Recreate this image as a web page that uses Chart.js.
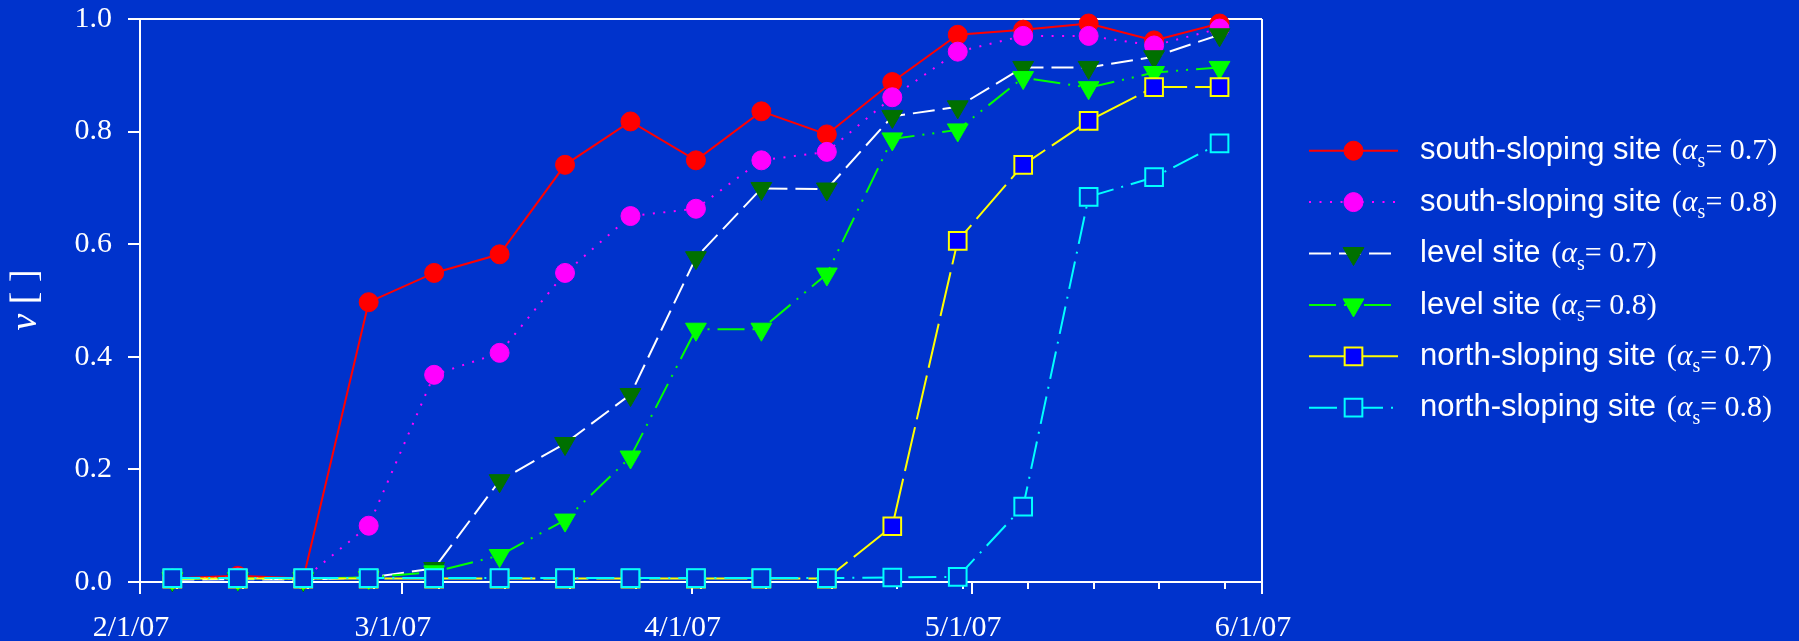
<!DOCTYPE html>
<html>
<head>
<meta charset="utf-8">
<script src="https://cdn.jsdelivr.net/npm/chart.js@4.4.0/dist/chart.umd.min.js"></script>
<style>
  html, body { margin: 0; padding: 0; background: #0033CC; }
  #wrap { width: 1799px; height: 641px; position: relative; }
</style>
</head>
<body>
<div id="wrap"><canvas id="c" width="1799" height="641"></canvas></div>
<script>
// Sampling dates (weekly field surveys, spring 2007)
const sampleDates = [
  '2007-02-04T11:00:00Z', '2007-02-11T11:00:00Z', '2007-02-18T11:00:00Z', '2007-02-25T11:00:00Z',
  '2007-03-04T11:00:00Z', '2007-03-11T11:00:00Z', '2007-03-18T11:00:00Z', '2007-03-25T11:00:00Z',
  '2007-04-01T11:00:00Z', '2007-04-08T11:00:00Z', '2007-04-15T11:00:00Z', '2007-04-22T11:00:00Z',
  '2007-04-29T11:00:00Z', '2007-05-06T11:00:00Z', '2007-05-13T11:00:00Z', '2007-05-20T11:00:00Z',
  '2007-05-27T11:00:00Z'
];

// Fraction ν for each site and threshold α_s
const southSloping07 = [0.006, 0.011, 0.006, 0.497, 0.549, 0.582, 0.741, 0.818, 0.749, 0.836, 0.795, 0.888, 0.972, 0.981, 0.992, 0.962, 0.992];
const southSloping08 = [0.006, 0.008, 0.005, 0.100, 0.368, 0.407, 0.549, 0.650, 0.663, 0.749, 0.764, 0.861, 0.942, 0.970, 0.970, 0.953, 0.983];
const level07        = [0.004, 0.005, 0.004, 0.008, 0.024, 0.180, 0.246, 0.333, 0.576, 0.699, 0.698, 0.827, 0.844, 0.914, 0.914, 0.933, 0.972];
const level08        = [0.006, 0.006, 0.006, 0.008, 0.018, 0.047, 0.110, 0.222, 0.449, 0.449, 0.547, 0.787, 0.803, 0.896, 0.878, 0.905, 0.914];
const northSloping07 = [0.006, 0.006, 0.006, 0.006, 0.006, 0.006, 0.006, 0.006, 0.006, 0.006, 0.006, 0.099, 0.606, 0.741, 0.819, 0.879, 0.879];
const northSloping08 = [0.007, 0.007, 0.007, 0.007, 0.007, 0.007, 0.007, 0.007, 0.007, 0.007, 0.007, 0.008, 0.009, 0.134, 0.684, 0.719, 0.779];

// Series names and their α_s thresholds
const siteNames  = ['south-sloping site', 'south-sloping site', 'level site', 'level site', 'north-sloping site', 'north-sloping site'];
const alphaS     = ['0.7', '0.8', '0.7', '0.8', '0.7', '0.8'];

// Axis ticks
const axisStart = '2007-02-01T00:00:00Z';
const axisEnd   = '2007-06-01T00:00:00Z';
const monthTickDates  = ['2007-02-01T00:00:00Z', '2007-03-01T00:00:00Z', '2007-04-01T00:00:00Z', '2007-05-01T00:00:00Z', '2007-06-01T00:00:00Z'];
const monthTickLabels = ['2/1/07', '3/1/07', '4/1/07', '5/1/07', '6/1/07'];
const weekTickDates = [
  '2007-02-05T00:00:00Z', '2007-02-12T00:00:00Z', '2007-02-19T00:00:00Z', '2007-02-26T00:00:00Z',
  '2007-03-05T00:00:00Z', '2007-03-12T00:00:00Z', '2007-03-19T00:00:00Z', '2007-03-26T00:00:00Z',
  '2007-04-02T00:00:00Z', '2007-04-09T00:00:00Z', '2007-04-16T00:00:00Z', '2007-04-23T00:00:00Z',
  '2007-04-30T00:00:00Z', '2007-05-07T00:00:00Z', '2007-05-14T00:00:00Z', '2007-05-21T00:00:00Z',
  '2007-05-28T00:00:00Z'
];
const yTickLabels = ['0.0', '0.2', '0.4', '0.6', '0.8', '1.0'];

// Dates are placed on a linear axis measured in days since the axis start
const DAY = 86400000;
const t0 = Date.parse(axisStart);
const toDay = s => (Date.parse(s) - t0) / DAY;
const sampleDays = sampleDates.map(toDay);
const monthTickDays = monthTickDates.map(toDay);
const weekTickDays = weekTickDates.map(toDay);
const pts = vals => vals.map((v, i) => ({ x: sampleDays[i], y: v }));

const BG = '#0033CC';
const SERIF = '"Liberation Serif", "DejaVu Serif", serif';
const SANS = '"Liberation Sans", Arial, sans-serif';

const datasets = [
  { label: siteNames[0] + ' (αs= ' + alphaS[0] + ')', data: pts(southSloping07), order: 6,
    borderColor: '#FF0000', borderWidth: 2, borderDash: [],
    pointStyle: 'circle', pointRadius: 9.5, pointBackgroundColor: '#FF0000', pointBorderColor: '#FF0000', pointBorderWidth: 1, pointRotation: 0 },
  { label: siteNames[1] + ' (αs= ' + alphaS[1] + ')', data: pts(southSloping08), order: 5,
    borderColor: '#FF00FF', borderWidth: 2, borderDash: [2, 8.5],
    pointStyle: 'circle', pointRadius: 9.5, pointBackgroundColor: '#FF00FF', pointBorderColor: '#FF00FF', pointBorderWidth: 1, pointRotation: 0 },
  { label: siteNames[2] + ' (αs= ' + alphaS[2] + ')', data: pts(level07), order: 4,
    borderColor: '#FFFFFF', borderWidth: 2, borderDash: [22, 8],
    pointStyle: 'triangle', pointRadius: 12, pointBackgroundColor: '#007000', pointBorderColor: '#007000', pointBorderWidth: 1, pointRotation: 180 },
  { label: siteNames[3] + ' (αs= ' + alphaS[3] + ')', data: pts(level08), order: 3,
    borderColor: '#00FF00', borderWidth: 2, borderDash: [27, 8, 2, 8, 2, 8],
    pointStyle: 'triangle', pointRadius: 12, pointBackgroundColor: '#00FF00', pointBorderColor: '#00FF00', pointBorderWidth: 1, pointRotation: 180 },
  { label: siteNames[4] + ' (αs= ' + alphaS[4] + ')', data: pts(northSloping07), order: 2,
    borderColor: '#FFFF00', borderWidth: 2, borderDash: [45, 8],
    pointStyle: 'rect', pointRadius: 12.5, pointBackgroundColor: '#0000FF', pointBorderColor: '#FFFF00', pointBorderWidth: 2, pointRotation: 0 },
  { label: siteNames[5] + ' (αs= ' + alphaS[5] + ')', data: pts(northSloping08), order: 1,
    borderColor: '#00FFFF', borderWidth: 2, borderDash: [28, 8, 2, 8],
    pointStyle: 'rect', pointRadius: 12.5, pointBackgroundColor: BG, pointBorderColor: '#00FFFF', pointBorderWidth: 2, pointRotation: 0 }
];
datasets.forEach(d => { d.tension = 0; d.fill = false; d.clip = false; d.borderCapStyle = 'butt'; });

// Solid background behind everything
const backgroundPlugin = {
  id: 'bg',
  beforeDraw(chart) {
    const ctx = chart.ctx;
    ctx.save();
    ctx.fillStyle = BG;
    ctx.fillRect(0, 0, chart.width, chart.height);
    ctx.restore();
  }
};

// Short weekly ticks under the time axis
const weekTicksPlugin = {
  id: 'weekTicks',
  beforeDatasetsDraw(chart) {
    const x = chart.scales.x, ctx = chart.ctx;
    const y0 = chart.chartArea.bottom;
    ctx.save();
    ctx.strokeStyle = '#FFFFFF';
    ctx.lineWidth = 2;
    ctx.beginPath();
    weekTickDays.forEach(d => {
      const px = Math.round(x.getPixelForValue(d));
      ctx.moveTo(px, y0);
      ctx.lineTo(px, y0 + 7);
    });
    ctx.stroke();
    ctx.restore();
  }
};

// Rotated y-axis title: italic ν followed by upright brackets
const yTitlePlugin = {
  id: 'yTitle',
  afterDraw(chart) {
    const ctx = chart.ctx;
    ctx.save();
    ctx.translate(36, 300);
    ctx.rotate(-Math.PI / 2);
    ctx.fillStyle = '#FFFFFF';
    ctx.textBaseline = 'alphabetic';
    const f1 = 'italic 38px ' + SERIF, f2 = '38px ' + SERIF;
    ctx.font = f1; const w1 = ctx.measureText('ν').width;
    ctx.font = f2; const w2 = ctx.measureText(' [ ]').width;
    const x = -(w1 + w2) / 2;
    ctx.font = f1; ctx.fillText('ν', x, 0);
    ctx.font = f2; ctx.fillText(' [ ]', x + w1, 0);
    ctx.restore();
  }
};

// Legend on the right, with mixed sans / serif / subscript text
const sideLegendPlugin = {
  id: 'sideLegend',
  afterDraw(chart) {
    const ctx = chart.ctx;
    const x0 = 1309, x1 = 1398, xm = 1353.5, xt = 1420;
    chart.data.datasets.forEach((ds, i) => {
      const y = 150.7 + i * 51.4;
      ctx.save();
      ctx.strokeStyle = ds.borderColor;
      ctx.lineWidth = ds.borderWidth;
      ctx.lineCap = 'butt';
      ctx.setLineDash(ds.borderDash || []);
      ctx.beginPath();
      ctx.moveTo(x0, y);
      ctx.lineTo(x1, y);
      ctx.stroke();
      ctx.setLineDash([]);
      ctx.fillStyle = ds.pointBackgroundColor;
      ctx.strokeStyle = ds.pointBorderColor;
      ctx.lineWidth = ds.pointBorderWidth;
      Chart.helpers.drawPoint(ctx, {
        pointStyle: ds.pointStyle, radius: ds.pointRadius,
        rotation: ds.pointRotation, borderWidth: ds.pointBorderWidth
      }, xm, y);

      const base = y + 8.6;
      ctx.fillStyle = '#FFFFFF';
      ctx.textBaseline = 'alphabetic';
      let x = xt;
      const put = (txt, font, dy) => {
        ctx.font = font;
        ctx.fillText(txt, x, base + (dy || 0));
        x += ctx.measureText(txt).width;
      };
      put(siteNames[i] + ' ', '31px ' + SANS);
      x += 2;
      put('(', '30px ' + SERIF);
      put('α', 'italic 30px ' + SERIF);
      put('s', '20px ' + SERIF, 7.5);
      put('= ' + alphaS[i] + ')', '30px ' + SERIF);
      ctx.restore();
    });
  }
};

const transparent = 'rgba(0,0,0,0)';

new Chart(document.getElementById('c'), {
  type: 'line',
  data: { datasets },
  plugins: [backgroundPlugin, weekTicksPlugin, yTitlePlugin, sideLegendPlugin],
  options: {
    responsive: false,
    devicePixelRatio: 1,
    animation: false,
    layout: { padding: { top: 19, right: 537, bottom: 0, left: 0 } },
    plugins: { legend: { display: false }, tooltip: { enabled: false } },
    scales: {
      x: {
        type: 'linear',
        min: toDay(axisStart),
        max: toDay(axisEnd),
        afterBuildTicks: s => { s.ticks = monthTickDays.map(v => ({ value: v })); },
        afterFit: s => { s.height = 59; s.paddingLeft = 0; s.paddingRight = 0; },
        ticks: {
          autoSkip: false, maxRotation: 0, minRotation: 0,
          color: '#FFFFFF',
          font: { family: SERIF, size: 30 },
          padding: 16,
          labelOffset: -9,
          callback: v => monthTickLabels[monthTickDays.indexOf(v)]
        },
        grid: {
          drawOnChartArea: true,
          color: c => (c.tick && c.tick.value === toDay(axisEnd)) ? '#FFFFFF' : transparent,
          lineWidth: 2,
          tickLength: 12,
          tickColor: '#FFFFFF',
          tickWidth: 2
        },
        border: { display: true, color: '#FFFFFF', width: 2 }
      },
      y: {
        min: 0, max: 1,
        afterBuildTicks: s => { s.ticks = yTickLabels.map(t => ({ value: parseFloat(t) })); },
        afterFit: s => { s.width = 140; s.paddingTop = 0; s.paddingBottom = 0; },
        ticks: {
          color: '#FFFFFF',
          font: { family: SERIF, size: 30 },
          padding: 16,
          callback: v => yTickLabels.find(t => parseFloat(t) === v)
        },
        grid: {
          drawOnChartArea: true,
          color: c => (c.tick && c.tick.value === 1) ? '#FFFFFF' : transparent,
          lineWidth: 2,
          tickLength: 12,
          tickColor: '#FFFFFF',
          tickWidth: 2
        },
        border: { display: true, color: '#FFFFFF', width: 2 }
      }
    }
  }
});
</script>
</body>
</html>
